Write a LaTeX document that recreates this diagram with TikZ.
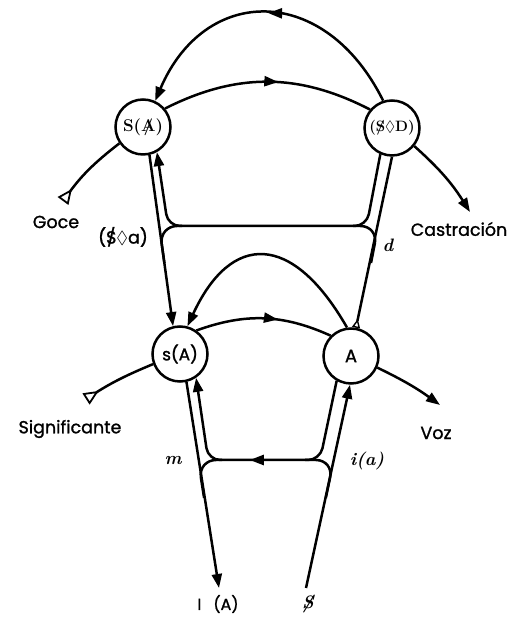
\documentclass[tikz,border=0pt]{standalone}
\usepackage{amsmath,amssymb}
\usepackage{fontspec}
\newfontfamily\labfont{Poppins}[FakeBold=1.2]
\usetikzlibrary{arrows.meta,decorations.markings}
\newcommand\barS{\ooalign{S\cr\hidewidth/\hidewidth\cr}}
\newcommand\barA{\ooalign{A\cr\hidewidth/\hidewidth\cr}}
\tikzset{
  wire/.style={line width=2.5pt,line join=round},
  headend/.style={-{Triangle[length=14pt,width=10pt]}},
  headstart/.style={{Triangle[length=14pt,width=10pt]}-},
  tailtri/.style={{Triangle[open,reversed,length=15pt,width=13pt,line width=1.8pt]}-},
  smalltri/.style={{Triangle[open,reversed,length=9pt,width=8pt,line width=1.4pt]}-},
  ring/.style={circle,draw,line width=2.5pt,minimum size=55pt,inner sep=0pt},
  midarrow/.style={postaction={decorate},decoration={markings,mark=at position #1 with {\arrow{Triangle[length=14pt,width=10pt]}}}},
  lbl/.style={inner sep=0pt,font=\labfont\fontsize{17.5}{20}\selectfont},
  ital/.style={inner sep=0pt,font=\bfseries\itshape\fontsize{18}{20}\selectfont},
}
\begin{document}
\begin{tikzpicture}[x=1pt,y=1pt]
\fill[white] (0,0) rectangle (516,618);
\useasboundingbox (0,0) rectangle (516,618);
% circles
\node[ring,font=\bfseries\fontsize{17}{20}\selectfont] (SA) at (143,491) {S(\barA)};
\node[ring,font=\bfseries\fontsize{15}{20}\selectfont] (SD) at (392,490) {(\barS$\boldsymbol{\lozenge}$D)};
\node[ring,font=\labfont\fontsize{17}{20}\selectfont] (sA) at (180,264) {s(A)};
\node[ring,font=\labfont\fontsize{18}{20}\selectfont] (A) at (351,262) {A};
% free ends and corners
\coordinate (Gt) at (63,417);
\coordinate (Ct) at (470,406);
\coordinate (St) at (86,219);
\coordinate (Vt) at (440,213);
\coordinate (Dt) at (306,30);
\coordinate (It) at (219,30);
\coordinate (J1) at (182,392);
\coordinate (K1u) at (168,392);
\coordinate (K1d) at (159.2,392);
\coordinate (L1) at (164.4,355);
\coordinate (J2) at (353,392);
\coordinate (K2u) at (366.6,392);
\coordinate (K2d) at (378.3,392);
\coordinate (L2) at (371,355);
\coordinate (J3) at (222,158);
\coordinate (K3u) at (208.2,158);
\coordinate (K3d) at (198.1,158);
\coordinate (L3) at (204.1,120);
\coordinate (J4) at (305,158);
\coordinate (K4u) at (320,158);
\coordinate (K4d) at (333.8,158);
\coordinate (L4) at (325.8,120);
% outer chains
\draw[wire,tailtri] (Gt) to[bend left=8] (SA);
\draw[wire,headend] (SD) to[bend left=8] (Ct);
\draw[wire,tailtri] (St) to[bend left=5] (sA);
\draw[wire,headend] (A) to[bend left=5] (Vt);
% upper arcs
\draw[wire,smalltri,midarrow=0.5,-{Triangle[length=14pt,width=10pt]}] (SD.108) .. controls +(-58,117) and +(50,117) .. (SA.65);
\draw[wire,midarrow=0.55] (SA.40) to[bend left=27] (SD.140);
% lower arcs
\draw[wire,midarrow=0.6] (sA.55) to[bend left=22] (A.135);
\draw[wire,smalltri,-{Triangle[length=14pt,width=10pt]}] (A.98) .. controls +(-55,96) and +(43.5,94) .. (sA.75);
% upper verticals
\draw[wire,headend] (SA.283) -- (sA.104);
\draw[wire,smalltri] (A.80) -- (SD.270);
\draw[wire,rounded corners=12pt,headstart] (SA.299) -- (K1u) -- (K2u) -- (SD.246);
\draw[wire,rounded corners=18pt] (J1) -- (K1d) -- (L1);
\draw[wire,rounded corners=18pt] (J2) -- (K2d) -- (L2);
% lower verticals
\draw[wire,headend] (sA.283) -- (It);
\draw[wire,tailtri,-{Triangle[length=14pt,width=10pt]}] (Dt) -- (A.268);
\draw[wire,rounded corners=12pt,headend,midarrow=0.55] (A.240) -- (K4u) -- (K3u) -- (sA.304);
\draw[wire,rounded corners=18pt] (J3) -- (K3d) -- (L3);
\draw[wire,rounded corners=18pt] (J4) -- (K4d) -- (L4);
% labels
\node[lbl] (goce) at (56,396) {Goce};
\node[lbl] (sda) at (123,381) {(\barS$\lozenge$a)};
\node[lbl] (cast) at (459,389) {Castración};
\node[ital] (dl) at (388,373) {d};
\node[lbl] (sig) at (70,189) {Significante};
\node[ital] (ml) at (173,157) {m};
\node[lbl] (voz) at (436,185) {Voz};
\node[ital] (ia) at (367,157) {i(a)};
\node[lbl,font=\labfont\fontsize{16}{18}\selectfont] (IA) at (218,14) {I\hspace{12pt}(A)};
\node[ital] (Sb) at (308,14) {\barS};
\end{tikzpicture}
\end{document}
